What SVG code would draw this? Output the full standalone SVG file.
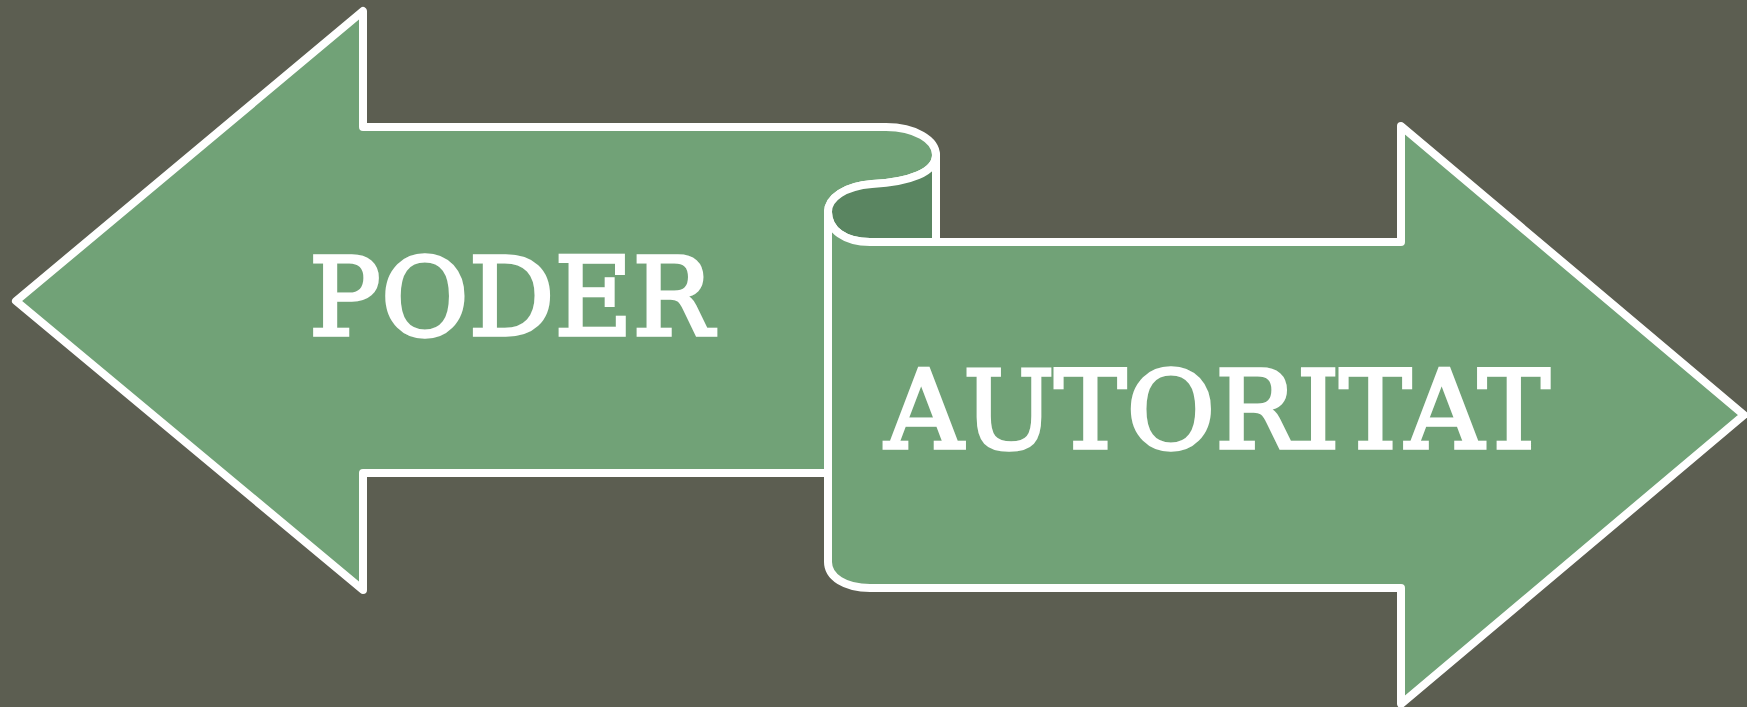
<svg xmlns="http://www.w3.org/2000/svg" width="1747" height="707" viewBox="0 0 1747 707">
<style>
.shape{fill:#71a277;stroke:#ffffff;stroke-width:8;stroke-linejoin:round}
.back{fill:#5a8561;stroke:#ffffff;stroke-width:8;stroke-linejoin:round}
.label{font-family:"DejaVu Serif","Liberation Serif",serif;font-size:108px;fill:#ffffff;stroke:#ffffff;stroke-width:3.5;stroke-linejoin:miter}
</style>
<rect width="1747" height="707" fill="#5c5e51"/>
<g id="node-poder">
<path class="shape" d="M363,11 L363,127 L886,127 C915,127 936,140 936,155 C936,172 910,182 872,184 C845,186 828,198 828,212 L828,473 L363,473 L363,590 L16,301 Z"/>
<path class="back" d="M936,155 C936,172 910,182 872,184 C845,186 828,198 828,212 C828,230 845,242 870,242 L936,242 Z"/>
<text class="label" x="309" y="335" textLength="404" lengthAdjust="spacingAndGlyphs">PODER</text>
</g>
<g id="node-autoritat">
<path class="shape" d="M828,212 C828,230 845,242 870,242 L1401,242 L1401,126 L1744,415 L1401,704 L1401,588 L870,588 C845,588 828,577 828,562 Z"/>
<text class="label" x="885" y="448" textLength="665" lengthAdjust="spacingAndGlyphs">AUTORITAT</text>
</g>
<g id="connectors"></g>
</svg>
